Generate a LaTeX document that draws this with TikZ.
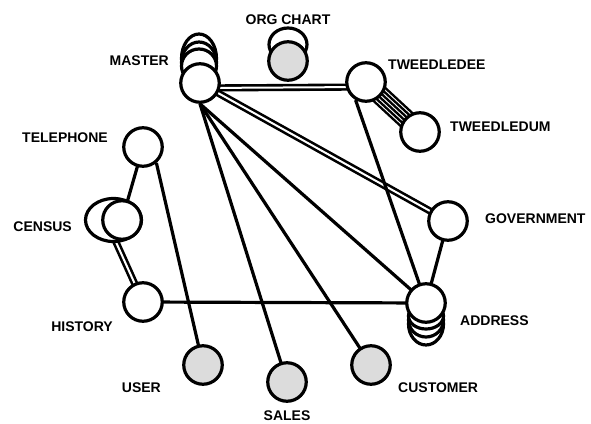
\documentclass[tikz,border=0pt]{standalone}
\usepackage{fontspec}
\setmainfont{Liberation Sans}
\usetikzlibrary{backgrounds,calc}
\definecolor{vgray}{RGB}{220,220,220}
\begin{document}
\begin{tikzpicture}[x=1pt,y=-1pt,
  vert/.style={circle,draw,line width=3.2pt,fill=white,minimum size=38.5pt,inner sep=0pt},
  grayvert/.style={vert,fill=vgray},
  lbl/.style={font=\bfseries\fontsize{14}{14}\selectfont,inner sep=0pt},
  edge/.style={line width=3.2pt},
  dbl/.style={double,line width=2.6pt,double distance=2pt},
  band/.style={line width=2.3pt},
  loope/.style={line width=3.2pt,fill=white}]
\useasboundingbox (0,0) rectangle (591,423);
% self loops
\draw[loope] (199,58.5) ellipse [x radius=17.5, y radius=24.5];
\draw[loope] (199,62.5) ellipse [x radius=17.5, y radius=20.5];
\draw[loope] (199,66) ellipse [x radius=17.5, y radius=17];
\draw[loope] (288,44.5) ellipse [x radius=19, y radius=16.5];
\draw[loope] (426,324) ellipse [x radius=17.5, y radius=21];
\draw[loope] (426,320) ellipse [x radius=17.5, y radius=17];
\draw[loope] (426,316) ellipse [x radius=17.5, y radius=13];
\draw[loope] (113.5,220) ellipse [x radius=28, y radius=21.5];
% vertices
\node[vert] (master) at (200,83) {};
\node[grayvert] (orgchart) at (288,61) {};
\node[vert] (tweedledee) at (366,82) {};
\node[vert] (tweedledum) at (420,132) {};
\node[vert] (telephone) at (143,147) {};
\node[vert] (census) at (122,220) {};
\node[vert] (history) at (143,302) {};
\node[vert] (government) at (448,221) {};
\node[vert] (address) at (426,303) {};
\node[grayvert] (user) at (203,365) {};
\node[grayvert] (sales) at (287,382) {};
\node[grayvert] (customer) at (371,365) {};
% labels
\node[lbl,anchor=east] (lmaster) at (169,61) {MASTER};
\node[lbl] (lorg) at (288,20) {ORG CHART};
\node[lbl,anchor=west] (ldee) at (388,65) {TWEEDLEDEE};
\node[lbl,anchor=west] (ldum) at (450,127) {TWEEDLEDUM};
\node[lbl,anchor=east] (ltel) at (108,138) {TELEPHONE};
\node[lbl,anchor=east] (lcen) at (72,227) {CENSUS};
\node[lbl,anchor=east] (lhis) at (113,327) {HISTORY};
\node[lbl,anchor=west] (lgov) at (485,219) {GOVERNMENT};
\node[lbl,anchor=west] (ladd) at (460,321) {ADDRESS};
\node[lbl,anchor=east] (luser) at (161,388) {USER};
\node[lbl] (lsales) at (287,416) {SALES};
\node[lbl,anchor=west] (lcust) at (398,388) {CUSTOMER};
% connectors
\begin{scope}[on background layer]
\draw[dbl] ([yshift=-5pt]master.center) -- ([yshift=-5pt]tweedledee.center);
\draw[dbl] (master.center) -- (government.center);
\draw[edge] (master.south) -- (address.center);
\draw[edge] (master.south) -- (customer.center);
\draw[edge] (master.south) -- (sales.center);
\draw[edge] (tweedledee.-120) -- (address.center);
\draw[edge] (government.center) -- (address.center);
\draw[edge] (history.center) -- (address.center);
\draw[edge] (telephone.center) -- (census.center);
\draw[edge] (telephone.-50) -- (user.center);
\draw[dbl] (census.-110) -- (history.center);
\foreach \o in {-8.75,-5.25,-1.75,1.75,5.25,8.75}
  \draw[band] ($(tweedledee.center)!\o pt!90:(tweedledum.center)$) -- ($(tweedledum.center)!\o pt!-90:(tweedledee.center)$);
\end{scope}
\end{tikzpicture}
\end{document}
